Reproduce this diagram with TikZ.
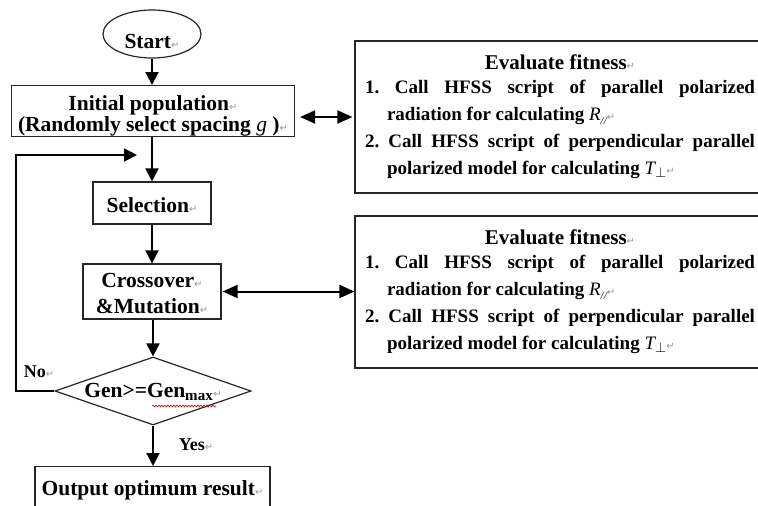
\documentclass[tikz,border=0pt]{standalone}
\usepackage{fontspec}
\setmainfont{Liberation Serif}
\newfontfamily\symfont{DejaVu Sans}
\usetikzlibrary{shapes.geometric,arrows.meta,calc,decorations.pathmorphing}

% paragraph mark and the two italic quantities
\newcommand{\pmark}{{\color{black!40}\mdseries\fontsize{10}{10}\selectfont\symfont ↵}}
\newcommand{\Rpar}{{\mdseries\itshape R}\raisebox{-4pt}{\fontsize{11}{11}\selectfont\mdseries\itshape //}}
\newcommand{\Tperp}{{\mdseries\itshape T}\raisebox{-3pt}{$\scriptstyle\perp$}}
% the body of one fitness box
\newcommand{\fitnesstext}{%
  {\centering\fontsize{21}{27}\selectfont Evaluate fitness\pmark\par}\vspace{-3pt}
  \hangindent=22pt\hangafter=1 1.\ Call HFSS script of parallel polarized\linebreak
  radiation for calculating \Rpar\pmark\par
  \hangindent=22pt\hangafter=1 2.\ Call HFSS script of perpendicular parallel\linebreak
  polarized model for calculating \Tperp\pmark\par}

\tikzset{
  box/.style={draw=black!85, line width=1.2pt, rectangle, inner sep=0pt,
    font=\fontsize{21.5}{21}\selectfont\bfseries},
  flow/.style={line width=2pt, -{Triangle[length=13pt,width=13pt]}},
  dbl/.style={line width=2pt,
    {Triangle[length=15pt,width=13pt]}-{Triangle[length=15pt,width=13pt]}},
  evalbox/.style={draw=black!85, line width=1.2pt, rectangle, text width=390pt,
    inner xsep=10pt, inner ysep=0pt, minimum height=152pt, align=justify,
    font=\fontsize{19}{27}\selectfont\bfseries},
  lbl/.style={font=\fontsize{18}{18}\selectfont\bfseries, inner sep=0pt},
}

\begin{document}
\begin{tikzpicture}[x=1pt, y=-1pt]
\clip (0,0) rectangle (758,506);

% main column of the genetic algorithm
\node[box, ellipse, minimum width=98pt, minimum height=48pt, text height=28pt, text depth=0pt] (start) at (152,34) {Start\pmark};
\node[box, align=center, minimum width=283pt, minimum height=50pt] (init) at (153,111)
  {\rule{0pt}{25pt}Initial population\pmark\\(Randomly select spacing \textit{\mdseries g} )\pmark};
\node[box, minimum width=118pt, minimum height=42pt, text height=18pt, text depth=0pt] (sel) at (152,203) {Selection\pmark};
\node[box, align=center, font=\fontsize{21.5}{26}\selectfont\bfseries,
  minimum width=138pt, minimum height=55pt] (cross) at (152,291.5) {\rule{0pt}{19pt}Crossover\pmark\\\&Mutation\pmark};
\node[box, diamond, shape aspect=2.9, minimum width=196pt, minimum height=68pt] (dec) at (153,391)
  {\rule{0pt}{17pt}Gen>=Gen\textsubscript{max}\pmark};
\node[box, anchor=north, minimum width=235pt, text height=15pt, text depth=5pt,
  inner ysep=14pt] (out) at (152.5,466) {Output optimum result\pmark};

% fitness evaluation boxes
\node[evalbox] (ev1) at (560,117) {\fitnesstext};
\node[evalbox] (ev2) at (560,292) {\fitnesstext};

% branch labels
\node[lbl] (no) at (39,372) {No\pmark};
\node[lbl] (yes) at (196,445) {Yes\pmark};

% spell-check underline under the subscripted name
\draw[red!85!black, line width=0.6pt, decorate,
  decoration={snake, amplitude=0.9pt, segment length=3pt}] (152,406) -- (216,406);

% connectors
\coordinate (fbend) at (137,155);
\draw[flow] (start.south) -- (start.south |- init.north);
\draw[flow] (init.south -| sel.north) -- (sel.north);
\draw[flow] (sel.south) -- (sel.south |- cross.north);
\draw[flow] (cross.south -| dec.north) -- (dec.north);
\draw[flow] (dec.south) -- (dec.south |- out.north);
\draw[flow] (dec.west) -- ++(-38,0) |- (fbend);
\draw[dbl] ($(init.east |- ev1.west)+(5pt,0)$) -- ($(ev1.west)+(-2pt,0)$);
\draw[dbl] ($(cross.east)+(1pt,0)$) -- (cross.east -| ev2.west);
\end{tikzpicture}
\end{document}
